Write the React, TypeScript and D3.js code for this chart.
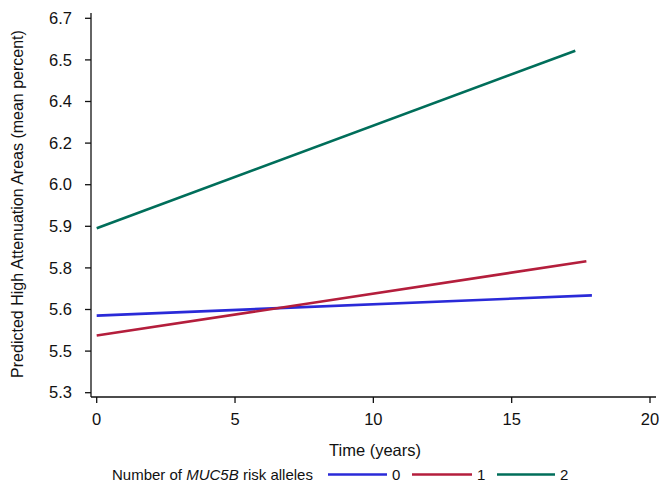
import React from "react";
import * as d3 from "d3";

const xTicks = [0, 5, 10, 15, 20];
const yTickValues = [5.3, 5.45, 5.6, 5.75, 5.9, 6.05, 6.2, 6.35, 6.5, 6.65];
const yTickLabels = ["5.3", "5.5", "5.6", "5.8", "5.9", "6.0", "6.2", "6.4", "6.5", "6.7"];

const seriesNames = ["0", "1", "2"];
const seriesColors = ["#2a2ad8", "#b41e3c", "#006e5a"];
const time0 = [0, 17.9];
const values0 = [5.578, 5.651];
const time1 = [0, 17.7];
const values1 = [5.506, 5.774];
const time2 = [0, 17.3];
const values2 = [5.893, 6.533];

const FONT = "Arial, 'Liberation Sans', sans-serif";

export default function App() {
  const W = 659, H = 485;
  const x = d3.scaleLinear().domain([0, 20]).range([96.7, 650]);
  const y = d3.scaleLinear().domain([5.3, 6.65]).range([392.7, 18.3]);
  const axisX = 91;
  const axisY = 397;
  const line = d3
    .line<[number, number]>()
    .x((d) => x(d[0]))
    .y((d) => y(d[1]));
  const series = [
    { t: time0, v: values0 },
    { t: time1, v: values1 },
    { t: time2, v: values2 },
  ];
  const legendItems = [
    { x1: 328, x2: 387, tx: 392 },
    { x1: 412, x2: 472, tx: 477 },
    { x1: 497, x2: 555, tx: 560 },
  ];
  return (
    <svg
      width={W}
      height={H}
      style={{ position: "absolute", left: 0, top: 0, background: "#fff" }}
      fontFamily={FONT}
    >
      {/* axes */}
      <line x1={axisX} x2={axisX} y1={13} y2={axisY} stroke="#111" strokeWidth={1.3} />
      <line x1={axisX} x2={656} y1={axisY} y2={axisY} stroke="#111" strokeWidth={1.3} />
      {yTickValues.map((v, i) => (
        <g key={"yt" + i}>
          <line x1={85} x2={axisX} y1={y(v)} y2={y(v)} stroke="#111" strokeWidth={1.3} />
          <text x={72} y={y(v)} dy="0.35em" textAnchor="end" fontSize={16.5} fill="#111">
            {yTickLabels[i]}
          </text>
        </g>
      ))}
      {xTicks.map((t) => (
        <g key={"xt" + t}>
          <line x1={x(t)} x2={x(t)} y1={axisY} y2={axisY + 6} stroke="#111" strokeWidth={1.3} />
          <text x={x(t)} y={425} textAnchor="middle" fontSize={16.5} fill="#111">
            {t}
          </text>
        </g>
      ))}
      {/* titles */}
      <text x={375} y={456} textAnchor="middle" fontSize={16.5} fill="#111">
        Time (years)
      </text>
      <text
        transform={`translate(23,${204}) rotate(-90)`}
        textAnchor="middle"
        fontSize={16}
        fill="#111"
      >
        Predicted High Attenuation Areas (mean percent)
      </text>
      {/* series */}
      {series.map((s, i) => (
        <path
          key={"s" + i}
          d={line(s.t.map((t, j) => [t, s.v[j]] as [number, number])) || ""}
          fill="none"
          stroke={seriesColors[i]}
          strokeWidth={2.6}
        />
      ))}
      {/* legend */}
      <text x={112} y={479.5} fontSize={15} fill="#111">
        Number of <tspan fontStyle="italic">MUC5B</tspan> risk alleles
      </text>
      {legendItems.map((li, i) => (
        <g key={"lg" + i}>
          <line x1={li.x1} x2={li.x2} y1={474.5} y2={474.5} stroke={seriesColors[i]} strokeWidth={2.6} />
          <text x={li.tx} y={479.5} fontSize={15} fill="#111">
            {seriesNames[i]}
          </text>
        </g>
      ))}
    </svg>
  );
}
